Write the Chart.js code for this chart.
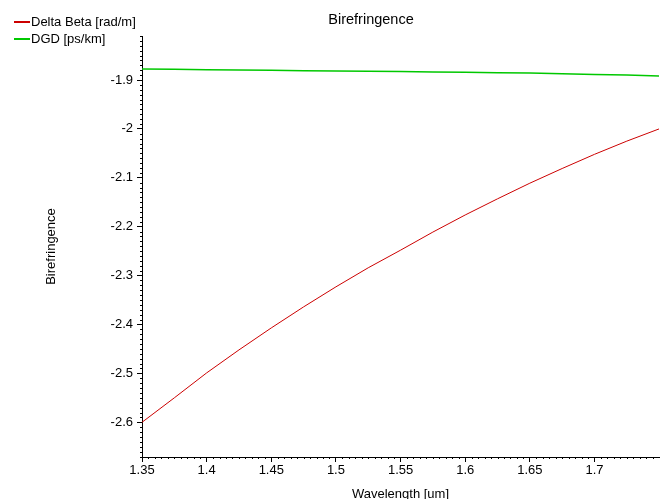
<!DOCTYPE html>
<html>
<head>
<meta charset="utf-8">
<script src="https://cdn.jsdelivr.net/npm/chart.js@4.4.0/dist/chart.umd.min.js"></script>
<style>
  body { margin: 0; background: #fff; }
  #wrap { width: 665px; height: 499px; }
</style>
</head>
<body>
<div id="wrap"><canvas id="biChart" width="665" height="499"></canvas></div>
<script>
// values
const wavelength = [1.35, 1.375, 1.4, 1.425, 1.45, 1.475, 1.5, 1.525, 1.55, 1.575, 1.6, 1.625, 1.65, 1.675, 1.7, 1.725, 1.75];
const deltaBeta = [-2.600, -2.550, -2.499, -2.452, -2.407, -2.364, -2.323, -2.284, -2.248, -2.211, -2.176, -2.143, -2.111, -2.081, -2.052, -2.025, -2.000];
const dgd = [-1.8775, -1.8780, -1.8788, -1.8796, -1.8803, -1.8809, -1.8815, -1.8821, -1.8828, -1.8836, -1.8843, -1.8850, -1.8857, -1.8870, -1.8885, -1.8900, -1.8918];
const seriesNames = ["Delta Beta [rad/m]", "DGD [ps/km]"];
const seriesColors = ["rgb(204,0,0)", "rgb(0,200,0)"];

const FONT = "'Liberation Sans', Arial, sans-serif";

function toPoints(ys) {
    return wavelength.map((x, i) => ({ x: x, y: ys[i] }));
}

// title, legend and the small minor ticks along both axes
const decorPlugin = {
    id: 'decor',
    afterDraw(chart) {
        const ctx = chart.ctx;
        const xs = chart.scales.x;
        const ys = chart.scales.y;
        const area = chart.chartArea;
        ctx.save();

        // minor ticks
        ctx.strokeStyle = '#000';
        ctx.lineWidth = 1;
        ctx.beginPath();
        for (let i = Math.ceil(ys.min * 100); i <= Math.floor(ys.max * 100); i++) {
            if (i % 10 === 0) continue;
            const py = Math.round(ys.getPixelForValue(i / 100)) + 0.5;
            ctx.moveTo(area.left - 2, py);
            ctx.lineTo(area.left, py);
        }
        for (let i = Math.ceil(xs.min * 200); i <= Math.floor(xs.max * 200); i++) {
            if (i % 10 === 0) continue;
            const px = Math.round(xs.getPixelForValue(i / 200)) + 0.5;
            ctx.moveTo(px, area.bottom);
            ctx.lineTo(px, area.bottom + 2);
        }
        ctx.stroke();

        // title
        ctx.fillStyle = '#000';
        ctx.font = '14.5px ' + FONT;
        ctx.textAlign = 'center';
        ctx.textBaseline = 'middle';
        ctx.fillText('Birefringence', 371, 20);

        // legend
        ctx.font = '13px ' + FONT;
        ctx.textAlign = 'left';
        seriesNames.forEach((name, i) => {
            const y = 22 + i * 17;
            ctx.strokeStyle = seriesColors[i];
            ctx.lineWidth = 2;
            ctx.beginPath();
            ctx.moveTo(14, y);
            ctx.lineTo(30, y);
            ctx.stroke();
            ctx.fillStyle = '#000';
            ctx.fillText(name, 31, y);
        });
        ctx.restore();
    }
};

function fmt(v) {
    const r = Math.round(v * 100) / 100;
    return String(r);
}

const ctx = document.getElementById('biChart');
new Chart(ctx, {
    type: 'line',
    data: {
        datasets: [
            {
                label: seriesNames[0],
                data: toPoints(deltaBeta),
                borderColor: seriesColors[0],
                borderWidth: 1,
                pointRadius: 0,
                tension: 0
            },
            {
                label: seriesNames[1],
                data: toPoints(dgd),
                borderColor: seriesColors[1],
                borderWidth: 1.5,
                pointRadius: 0,
                tension: 0
            }
        ]
    },
    options: {
        responsive: false,
        animation: false,
        layout: {
            padding: { left: 0, right: 6, top: 36, bottom: 0 }
        },
        plugins: {
            legend: { display: false },
            tooltip: { enabled: false },
            title: { display: false }
        },
        scales: {
            x: {
                type: 'linear',
                min: 1.35,
                max: 1.7499,
                afterFit: function(scale) { scale.height = 42; },
                border: { display: true, color: '#000', width: 1 },
                grid: {
                    drawOnChartArea: false,
                    drawTicks: true,
                    tickLength: 5,
                    color: '#000'
                },
                ticks: {
                    stepSize: 0.05,
                    includeBounds: false,
                    maxRotation: 0,
                    autoSkip: false,
                    padding: 1,
                    color: '#000',
                    font: { family: FONT, size: 13 },
                    callback: function(v) { return fmt(v); }
                },
                title: {
                    display: true,
                    text: 'Wavelength [um]',
                    color: '#000',
                    font: { family: FONT, size: 13, lineHeight: 1 },
                    padding: { top: 0, bottom: -2 }
                }
            },
            y: {
                min: -2.671,
                max: -1.81,
                afterFit: function(scale) { scale.width = 142; },
                border: { display: true, color: '#000', width: 1 },
                grid: {
                    drawOnChartArea: false,
                    drawTicks: true,
                    tickLength: 5,
                    color: '#000'
                },
                ticks: {
                    stepSize: 0.1,
                    includeBounds: false,
                    autoSkip: false,
                    padding: 4,
                    color: '#000',
                    font: { family: FONT, size: 13 },
                    callback: function(v) { return fmt(v); }
                },
                title: {
                    display: true,
                    text: 'Birefringence',
                    color: '#000',
                    font: { family: FONT, size: 13, lineHeight: 1 },
                    padding: { top: 45, bottom: 0 }
                }
            }
        }
    },
    plugins: [decorPlugin]
});
</script>
</body>
</html>
